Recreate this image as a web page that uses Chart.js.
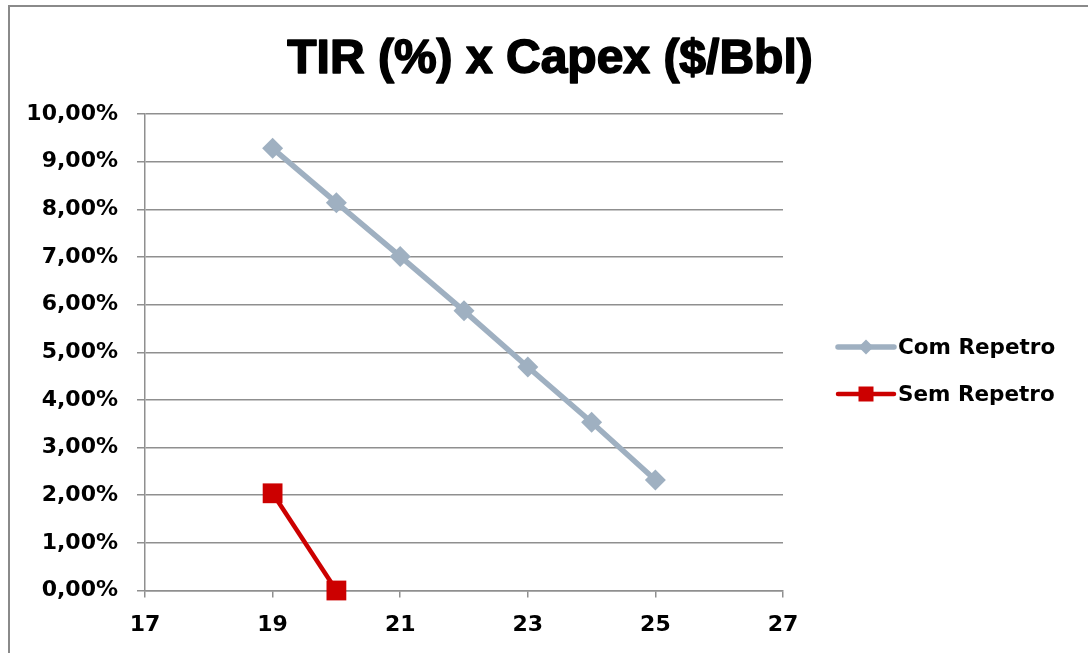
<!DOCTYPE html>
<html>
<head>
<meta charset="utf-8">
<title>TIR (%) x Capex ($/Bbl)</title>
<script src="https://cdn.jsdelivr.net/npm/chart.js@4/dist/chart.umd.min.js"></script>
<style>
  html, body { margin: 0; padding: 0; background: #ffffff; }
  #wrap { width: 1088px; height: 653px; }
</style>
</head>
<body>
<div id="wrap"><canvas id="chart" width="1088" height="653"></canvas></div>
<script>
// Chart text
const chartTitle = 'TIR (%) x Capex ($/Bbl)';
const seriesNames = ['Com Repetro', 'Sem Repetro'];

// Capex ($/Bbl) and TIR (%) per series
const capexCom = [19, 20, 21, 22, 23, 24, 25];
const tirCom = [9.28, 8.14, 7.01, 5.87, 4.69, 3.53, 2.32];
const capexSem = [19, 20];
const tirSem = [2.04, 0.00];

// Axis ticks
const xTickValues = [17, 19, 21, 23, 25, 27];
const yTickValues = [0, 1, 2, 3, 4, 5, 6, 7, 8, 9, 10];

const GRID = '#8f8f8f';
const TICK_FONT = { family: 'DejaVu Sans', weight: 'bold', size: 22 };

const toPoints = (xs, ys) => xs.map((x, i) => ({ x: x, y: ys[i] }));

// Outer frame of the chart
const framePlugin = {
  id: 'frame',
  beforeDraw(chart) {
    const ctx = chart.ctx;
    ctx.save();
    ctx.fillStyle = '#ffffff';
    ctx.fillRect(0, 0, chart.width, chart.height);
    ctx.strokeStyle = '#8a8a8a';
    ctx.lineWidth = 2;
    ctx.strokeRect(9, 6, chart.width + 20, chart.height + 20);
    ctx.restore();
  }
};

// Title centred on the whole canvas, with a thin outline for a heavier weight
const titlePlugin = {
  id: 'centerTitle',
  afterDraw(chart, args, opts) {
    const ctx = chart.ctx;
    ctx.save();
    ctx.font = 'bold 48px "Liberation Sans", Arial, sans-serif';
    ctx.fillStyle = '#000000';
    ctx.strokeStyle = '#000000';
    ctx.lineWidth = 1.6;
    ctx.lineJoin = 'round';
    ctx.textAlign = 'center';
    ctx.textBaseline = 'alphabetic';
    ctx.fillText(opts.text, opts.x, opts.y);
    ctx.strokeText(opts.text, opts.x, opts.y);
    ctx.restore();
  }
};

// Legend: a line segment with the series marker, followed by the name
const lineLegendPlugin = {
  id: 'lineLegend',
  afterDraw(chart, args, opts) {
    const ctx = chart.ctx;
    ctx.save();
    chart.data.datasets.forEach((ds, i) => {
      const y = opts.top + i * opts.rowGap;
      const x0 = opts.left, x1 = opts.left + opts.lineLength;
      const cx = (x0 + x1) / 2;
      ctx.strokeStyle = ds.borderColor;
      ctx.lineWidth = ds.borderWidth;
      ctx.lineCap = 'round';
      ctx.beginPath();
      ctx.moveTo(x0, y);
      ctx.lineTo(x1, y);
      ctx.stroke();
      ctx.fillStyle = ds.pointBackgroundColor;
      ctx.beginPath();
      if (ds.pointStyle === 'rectRot') {
        const r = opts.diamondRadius;
        ctx.moveTo(cx, y - r);
        ctx.lineTo(cx + r, y);
        ctx.lineTo(cx, y + r);
        ctx.lineTo(cx - r, y);
        ctx.closePath();
      } else {
        const h = opts.squareHalf;
        ctx.rect(cx - h, y - h, 2 * h, 2 * h);
      }
      ctx.fill();
      ctx.font = 'bold 21.5px "DejaVu Sans", sans-serif';
      ctx.fillStyle = '#000000';
      ctx.textAlign = 'left';
      ctx.textBaseline = 'middle';
      ctx.fillText(ds.label, x1 + opts.textGap, y + 1);
    });
    ctx.restore();
  }
};

new Chart(document.getElementById('chart'), {
  type: 'line',
  data: {
    datasets: [
      {
        label: seriesNames[0],
        data: toPoints(capexCom, tirCom),
        borderColor: '#9fb0c1',
        backgroundColor: '#9fb0c1',
        pointBackgroundColor: '#9fb0c1',
        pointBorderColor: '#9fb0c1',
        borderWidth: 5.5,
        pointStyle: 'rectRot',
        pointRadius: 10.5,
        pointBorderWidth: 0,
        pointHoverRadius: 10.5,
        tension: 0,
        clip: false
      },
      {
        label: seriesNames[1],
        data: toPoints(capexSem, tirSem),
        borderColor: '#cc0000',
        backgroundColor: '#cc0000',
        pointBackgroundColor: '#cc0000',
        pointBorderColor: '#cc0000',
        borderWidth: 4.5,
        pointStyle: 'rect',
        pointRadius: 14,
        pointBorderWidth: 0,
        pointHoverRadius: 14,
        tension: 0,
        clip: false
      }
    ]
  },
  options: {
    responsive: false,
    animation: false,
    devicePixelRatio: 1,
    layout: { padding: { left: 0, top: 114, right: 305, bottom: 0 } },
    plugins: {
      legend: { display: false },
      title: { display: false },
      tooltip: { enabled: false },
      centerTitle: { text: chartTitle, x: 550, y: 73 },
      lineLegend: {
        left: 838, lineLength: 56, top: 347, rowGap: 47,
        textGap: 4, diamondRadius: 7.5, squareHalf: 7.5
      }
    },
    scales: {
      x: {
        type: 'linear',
        min: 17,
        max: 27,
        afterBuildTicks: (s) => { s.ticks = xTickValues.map(v => ({ value: v })); },
        afterFit: (s) => { s.height = 62.5; },
        grid: {
          drawOnChartArea: false,
          drawTicks: true,
          tickLength: 7,
          color: GRID,
          lineWidth: 1.5
        },
        border: { display: true, color: GRID, width: 1.5 },
        ticks: {
          font: TICK_FONT,
          color: '#000000',
          padding: 15,
          maxRotation: 0,
          autoSkip: false
        }
      },
      y: {
        type: 'linear',
        min: 0,
        max: 10,
        afterBuildTicks: (s) => { s.ticks = yTickValues.map(v => ({ value: v })); },
        afterFit: (s) => { s.width = 145; },
        grid: {
          color: GRID,
          lineWidth: 1.5,
          drawTicks: true,
          tickLength: 8
        },
        border: { display: true, color: GRID, width: 1.5 },
        ticks: {
          font: TICK_FONT,
          color: '#000000',
          padding: 19,
          autoSkip: false,
          callback: (v) => v.toFixed(2).replace('.', ',') + '%'
        }
      }
    }
  },
  plugins: [framePlugin, titlePlugin, lineLegendPlugin]
});
</script>
</body>
</html>
